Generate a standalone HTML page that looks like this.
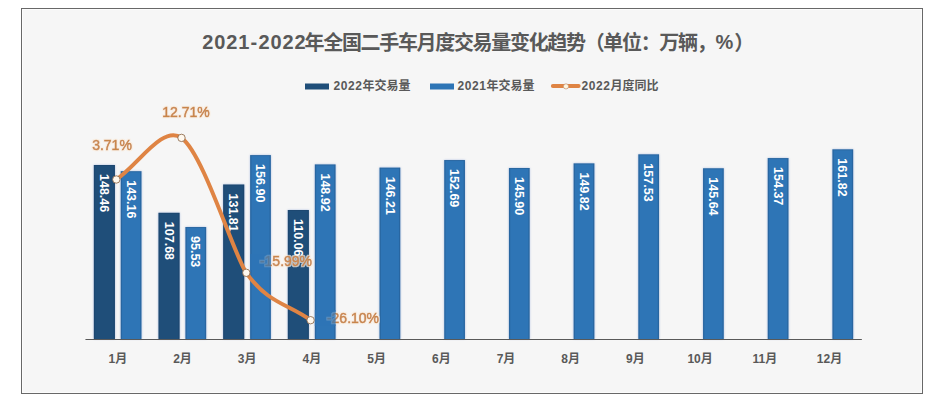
<!DOCTYPE html>
<html><head><meta charset="utf-8"><style>
html,body{margin:0;padding:0;background:#fff;}
body{width:945px;height:413px;overflow:hidden;position:relative;}
.frame{position:absolute;left:21px;top:8px;width:900px;height:384px;border:1px solid #686868;background:#f6f6f6;box-shadow:inset 0 0 0 1px #fcfcfc;}
svg{position:absolute;left:0;top:0;}
text{font-family:"Liberation Sans", "Noto Sans CJK SC", sans-serif;font-weight:bold;}
.bl{font-size:12.5px;fill:#fff;}
.bars{filter:drop-shadow(0 0 1.3px rgba(80,120,200,0.45));}
.ml{font-size:12px;fill:#595959;}
.pl{font-size:14px;fill:#C98549;font-weight:normal;stroke:#C98549;stroke-width:0.55px;}
.plh{font-size:14px;font-weight:normal;fill:none;stroke:rgba(250,238,225,0.55);stroke-width:3.2px;stroke-linejoin:round;}
.lg{font-size:12px;fill:#595959;}
.lgd{letter-spacing:0.6px;}
.tt{font-size:20px;letter-spacing:-1.33px;fill:#595959;}
.ttd{font-size:20px;letter-spacing:0.9px;}
.ttp{letter-spacing:0;}
</style></head><body>
<div class="frame"></div>
<svg width="945" height="413" viewBox="0 0 945 413">
<defs><filter id="halo" x="-20%" y="-40%" width="140%" height="180%"><feMorphology in="SourceAlpha" operator="dilate" radius="1.2" result="d"/><feFlood flood-color="rgb(250,236,220)" flood-opacity="0.75"/><feComposite in2="d" operator="in" result="h"/><feMerge><feMergeNode in="h"/><feMergeNode in="SourceGraphic"/></feMerge></filter></defs><g class="bars"><rect x="93.85" y="165.00" width="21.1" height="174.00" fill="#1F4E79"/><rect x="158.50" y="212.80" width="21.1" height="126.20" fill="#1F4E79"/><rect x="223.15" y="184.52" width="21.1" height="154.48" fill="#1F4E79"/><rect x="287.80" y="210.01" width="21.1" height="128.99" fill="#1F4E79"/><rect x="120.75" y="171.22" width="20.7" height="167.78" fill="#2E75B6"/><rect x="185.45" y="227.04" width="20.7" height="111.96" fill="#2E75B6"/><rect x="250.15" y="155.11" width="20.7" height="183.89" fill="#2E75B6"/><rect x="314.85" y="164.47" width="20.7" height="174.53" fill="#2E75B6"/><rect x="379.55" y="167.64" width="20.7" height="171.36" fill="#2E75B6"/><rect x="444.25" y="160.05" width="20.7" height="178.95" fill="#2E75B6"/><rect x="508.95" y="168.01" width="20.7" height="170.99" fill="#2E75B6"/><rect x="573.65" y="163.41" width="20.7" height="175.59" fill="#2E75B6"/><rect x="638.35" y="154.37" width="20.7" height="184.63" fill="#2E75B6"/><rect x="703.05" y="168.31" width="20.7" height="170.69" fill="#2E75B6"/><rect x="767.75" y="158.08" width="20.7" height="180.92" fill="#2E75B6"/><rect x="832.45" y="149.35" width="20.7" height="189.65" fill="#2E75B6"/></g><g fill="#14304f" opacity="0.2"><rect x="93.85" y="165.00" width="1.3" height="174.00"/><rect x="113.65" y="165.00" width="1.3" height="174.00"/><rect x="93.85" y="165.00" width="21.1" height="1"/><rect x="158.50" y="212.80" width="1.3" height="126.20"/><rect x="178.30" y="212.80" width="1.3" height="126.20"/><rect x="158.50" y="212.80" width="21.1" height="1"/><rect x="223.15" y="184.52" width="1.3" height="154.48"/><rect x="242.95" y="184.52" width="1.3" height="154.48"/><rect x="223.15" y="184.52" width="21.1" height="1"/><rect x="287.80" y="210.01" width="1.3" height="128.99"/><rect x="307.60" y="210.01" width="1.3" height="128.99"/><rect x="287.80" y="210.01" width="21.1" height="1"/><rect x="120.75" y="171.22" width="1.3" height="167.78"/><rect x="140.15" y="171.22" width="1.3" height="167.78"/><rect x="120.75" y="171.22" width="20.7" height="1"/><rect x="185.45" y="227.04" width="1.3" height="111.96"/><rect x="204.85" y="227.04" width="1.3" height="111.96"/><rect x="185.45" y="227.04" width="20.7" height="1"/><rect x="250.15" y="155.11" width="1.3" height="183.89"/><rect x="269.55" y="155.11" width="1.3" height="183.89"/><rect x="250.15" y="155.11" width="20.7" height="1"/><rect x="314.85" y="164.47" width="1.3" height="174.53"/><rect x="334.25" y="164.47" width="1.3" height="174.53"/><rect x="314.85" y="164.47" width="20.7" height="1"/><rect x="379.55" y="167.64" width="1.3" height="171.36"/><rect x="398.95" y="167.64" width="1.3" height="171.36"/><rect x="379.55" y="167.64" width="20.7" height="1"/><rect x="444.25" y="160.05" width="1.3" height="178.95"/><rect x="463.65" y="160.05" width="1.3" height="178.95"/><rect x="444.25" y="160.05" width="20.7" height="1"/><rect x="508.95" y="168.01" width="1.3" height="170.99"/><rect x="528.35" y="168.01" width="1.3" height="170.99"/><rect x="508.95" y="168.01" width="20.7" height="1"/><rect x="573.65" y="163.41" width="1.3" height="175.59"/><rect x="593.05" y="163.41" width="1.3" height="175.59"/><rect x="573.65" y="163.41" width="20.7" height="1"/><rect x="638.35" y="154.37" width="1.3" height="184.63"/><rect x="657.75" y="154.37" width="1.3" height="184.63"/><rect x="638.35" y="154.37" width="20.7" height="1"/><rect x="703.05" y="168.31" width="1.3" height="170.69"/><rect x="722.45" y="168.31" width="1.3" height="170.69"/><rect x="703.05" y="168.31" width="20.7" height="1"/><rect x="767.75" y="158.08" width="1.3" height="180.92"/><rect x="787.15" y="158.08" width="1.3" height="180.92"/><rect x="767.75" y="158.08" width="20.7" height="1"/><rect x="832.45" y="149.35" width="1.3" height="189.65"/><rect x="851.85" y="149.35" width="1.3" height="189.65"/><rect x="832.45" y="149.35" width="20.7" height="1"/></g><text class="bl" transform="translate(100.00,174.00) rotate(90)">148.46</text><text class="bl" transform="translate(164.65,221.80) rotate(90)">107.68</text><text class="bl" transform="translate(229.30,193.52) rotate(90)">131.81</text><text class="bl" transform="translate(293.95,219.01) rotate(90)">110.06</text><text class="bl" transform="translate(126.70,180.22) rotate(90)">143.16</text><text class="bl" transform="translate(191.40,236.04) rotate(90)">95.53</text><text class="bl" transform="translate(256.10,164.11) rotate(90)">156.90</text><text class="bl" transform="translate(320.80,173.47) rotate(90)">148.92</text><text class="bl" transform="translate(385.50,176.64) rotate(90)">146.21</text><text class="bl" transform="translate(450.20,169.05) rotate(90)">152.69</text><text class="bl" transform="translate(514.90,177.01) rotate(90)">145.90</text><text class="bl" transform="translate(579.60,172.41) rotate(90)">149.82</text><text class="bl" transform="translate(644.30,163.37) rotate(90)">157.53</text><text class="bl" transform="translate(709.00,177.31) rotate(90)">145.64</text><text class="bl" transform="translate(773.70,167.08) rotate(90)">154.37</text><text class="bl" transform="translate(838.40,158.35) rotate(90)">161.82</text>
<line x1="85.45" y1="339.5" x2="861.85" y2="339.5" stroke="#595959" stroke-width="1"/>
<text class="ml" x="117.80" y="363" text-anchor="middle">1月</text>
<text class="ml" x="182.50" y="363" text-anchor="middle">2月</text>
<text class="ml" x="247.20" y="363" text-anchor="middle">3月</text>
<text class="ml" x="311.90" y="363" text-anchor="middle">4月</text>
<text class="ml" x="376.60" y="363" text-anchor="middle">5月</text>
<text class="ml" x="441.30" y="363" text-anchor="middle">6月</text>
<text class="ml" x="506.00" y="363" text-anchor="middle">7月</text>
<text class="ml" x="570.70" y="363" text-anchor="middle">8月</text>
<text class="ml" x="635.40" y="363" text-anchor="middle">9月</text>
<text class="ml" x="700.10" y="363" text-anchor="middle">10月</text>
<text class="ml" x="764.80" y="363" text-anchor="middle">11月</text>
<text class="ml" x="829.50" y="363" text-anchor="middle">12月</text>
<rect x="305" y="83.5" width="24" height="6" fill="#1F4E79"/>
<text class="lg" x="333.5" y="90"><tspan class="lgd">2022</tspan>年交易量</text>
<rect x="430" y="83.5" width="24" height="6" fill="#2E75B6"/>
<text class="lg" x="457.5" y="90"><tspan class="lgd">2021</tspan>年交易量</text>
<line x1="552.9" y1="86" x2="578.6" y2="86" stroke="#DF8444" stroke-width="4.1" stroke-linecap="round"/>
<circle cx="566" cy="86.4" r="2.6" fill="#FFF6E0" stroke="#B98060" stroke-width="0.6"/>
<text class="lg" x="581.5" y="90"><tspan class="lgd">2022</tspan>月度同比</text>
<text class="tt" y="49"><tspan x="202.2" class="ttd">2021</tspan><tspan x="250.4" class="ttd">-</tspan><tspan x="258.4" class="ttd">2022</tspan><tspan x="304.6" dy="1">年全国二手车月度交易量变化趋势（单位：万辆，</tspan><tspan x="715.6" dy="-1" class="ttp">%</tspan><tspan x="734.2" dy="1">）</tspan></text><path d="M116.30,179.50 C137.40,166.04 162.44,124.22 181.50,137.90 C203.61,153.77 233.92,255.32 246.30,272.80 C268.32,303.90 288.61,303.99 310.60,320.20" fill="none" stroke="#DF8444" stroke-width="4" stroke-linecap="round" stroke-linejoin="round"/><circle cx="116.30" cy="179.50" r="3.7" fill="#FFF8EE" stroke="#85603F" stroke-width="0.8"/><circle cx="181.50" cy="137.90" r="3.7" fill="#FFF8EE" stroke="#85603F" stroke-width="0.8"/><circle cx="246.30" cy="272.80" r="3.7" fill="#FFF8EE" stroke="#85603F" stroke-width="0.8"/><circle cx="310.60" cy="320.20" r="3.7" fill="#FFF8EE" stroke="#85603F" stroke-width="0.8"/><text class="pl" x="112" y="149.5" text-anchor="middle" filter="url(#halo)">3.71%</text><text class="pl" x="186" y="116.5" text-anchor="middle" filter="url(#halo)">12.71%</text><text class="pl" x="286" y="266" text-anchor="middle" filter="url(#halo)">-15.99%</text><text class="pl" x="353" y="322.8" text-anchor="middle" filter="url(#halo)">-26.10%</text><rect x="250.1" y="254" width="20.8" height="16" fill="#2E75B6" opacity="0.72"/><rect x="314.8" y="310" width="20.8" height="16" fill="#2E75B6" opacity="0.72"/>
</svg>
</body></html>
